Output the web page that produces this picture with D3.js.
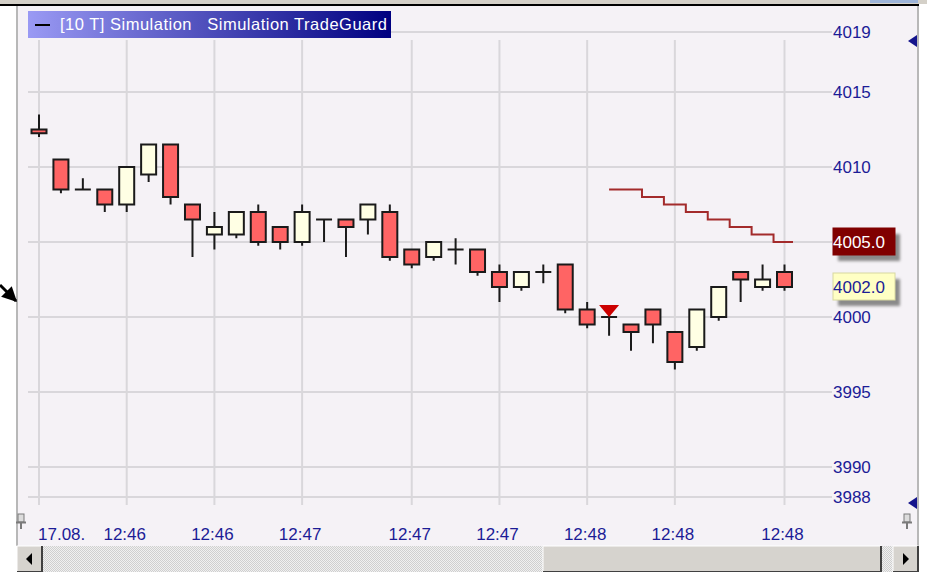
<!DOCTYPE html>
<html>
<head>
<meta charset="utf-8">
<script src="https://cdn.jsdelivr.net/npm/d3@7/dist/d3.min.js"></script>
<style>
  html, body { margin: 0; padding: 0; background: #fff; }
  svg { display: block; font-family: "Liberation Sans", Arial, sans-serif; }
</style>
</head>
<body>
<svg id="chart" width="927" height="572"></svg>
<script>
// candles, 10 tick bars
var opens  = [4012.5, 4010.5, 4008.5, 4008.5, 4007.5, 4009.5, 4011.5, 4007.5, 4005.5, 4005.5,
              4007.0, 4006.0, 4005.0, 4006.5, 4006.5, 4006.5, 4007.0, 4004.5, 4004.0, 4004.5,
              4004.5, 4003.0, 4002.0, 4003.0, 4003.5, 4000.5, 4000.0, 3999.5, 4000.5, 3999.0,
              3998.0, 4000.0, 4003.0, 4002.0, 4003.0];
var highs  = [4013.5, 4010.5, 4009.25, 4008.5, 4010.0, 4011.5, 4011.5, 4007.5, 4007.0, 4007.0,
              4007.5, 4006.0, 4007.5, 4006.5, 4006.5, 4007.5, 4007.5, 4004.5, 4005.0, 4005.25,
              4004.5, 4003.5, 4003.0, 4003.5, 4003.5, 4001.0, 4000.5, 3999.5, 4000.5, 3999.0,
              4000.5, 4002.0, 4003.0, 4003.5, 4003.5];
var lows   = [4012.0, 4008.25, 4008.5, 4007.0, 4007.0, 4009.0, 4007.5, 4004.0, 4004.5, 4005.25,
              4004.75, 4004.5, 4004.75, 4005.0, 4004.0, 4005.5, 4003.75, 4003.25, 4003.75, 4003.5,
              4002.75, 4001.0, 4001.75, 4002.25, 4000.25, 3999.25, 3998.75, 3997.75, 3998.25, 3996.5,
              3997.75, 3999.75, 4001.0, 4001.75, 4001.75];
var closes = [4012.25, 4008.5, 4008.5, 4007.5, 4010.0, 4011.5, 4008.0, 4006.5, 4006.0, 4007.0,
              4005.0, 4005.0, 4007.0, 4006.5, 4006.0, 4007.5, 4004.0, 4003.5, 4005.0, 4004.5,
              4003.0, 4002.0, 4003.0, 4003.0, 4000.5, 3999.5, 4000.0, 3999.0, 3999.5, 3997.0,
              4000.5, 4002.0, 4002.5, 4002.5, 4002.0];

// TradeGuard trailing stop, starts at the sell signal
var stops = [null, null, null, null, null, null, null, null, null, null,
             null, null, null, null, null, null, null, null, null, null,
             null, null, null, null, null, null, 4008.5, 4008.5, 4008.0, 4007.5,
             4007.0, 4006.5, 4006.0, 4005.5, 4005.0];

var signalBars = [26];
var signalPrices = [4000.0];

var priceTicks = [4019, 4015, 4010, 4005, 4000, 3995, 3990, 3988];
var timeTickBars = [0, 4, 8, 12, 17, 21, 25, 29, 34];
var timeTickLabels = ["17.08.", "12:46", "12:46", "12:47", "12:47", "12:47", "12:48", "12:48", "12:48"];

var legendText = "[10 T] Simulation   Simulation TradeGuard";

var W = 927, H = 572,
    frameLeft = 17, frameRight = 918, frameTop = 6, frameBottom = 546,
    gridLeft = 28, gridRight = 832, gridTop = 40, gridBottom = 505,
    bodyWidth = 15,
    navy = "#1c1c96";

var svg = d3.select("#chart");

var x = d3.scaleLinear().domain([0, opens.length - 1]).range([39, 784.5]);
var y = d3.scaleLinear().domain([3988, 4019]).range([497, 32]);

var bars = opens.map(function(o, i) {
    return {i: i, open: o, high: highs[i], low: lows[i], close: closes[i], stop: stops[i]};
});

var lastStop = stops[stops.length - 1],
    lastClose = closes[closes.length - 1];

// window chrome
svg.append("rect").attr("x", 0).attr("y", 0).attr("width", W).attr("height", 4).attr("fill", "#d4d0c8");
svg.append("rect").attr("x", 870).attr("y", 0).attr("width", 48).attr("height", 3).attr("fill", "#9db4d8");
svg.append("rect").attr("x", frameLeft).attr("y", frameTop).attr("width", frameRight - frameLeft)
    .attr("height", frameBottom - frameTop).attr("fill", "#f5f2f6");
svg.append("line").attr("x1", 0).attr("x2", frameRight + 1).attr("y1", 5).attr("y2", 5)
    .attr("stroke", "#000").attr("stroke-width", 2);
svg.append("line").attr("x1", frameLeft).attr("x2", frameLeft).attr("y1", frameTop).attr("y2", frameBottom)
    .attr("stroke", "#b8b8b8").attr("stroke-width", 2);
svg.append("line").attr("x1", frameRight).attr("x2", frameRight).attr("y1", frameTop).attr("y2", frameBottom)
    .attr("stroke", "#b8b8b8").attr("stroke-width", 2);

// grid
svg.append("g").selectAll("line").data(priceTicks).enter().append("line")
    .attr("x1", gridLeft).attr("x2", gridRight)
    .attr("y1", function(d) { return y(d); })
    .attr("y2", function(d) { return y(d); })
    .attr("stroke", "#d9d7db").attr("stroke-width", 2);

svg.append("g").selectAll("line").data(timeTickBars).enter().append("line")
    .attr("x1", function(d) { return x(d); })
    .attr("x2", function(d) { return x(d); })
    .attr("y1", gridTop).attr("y2", gridBottom)
    .attr("stroke", "#d9d7db").attr("stroke-width", 2);

// price axis (the tick under the stop marker is hidden by it)
svg.append("g").selectAll("text")
    .data(priceTicks.filter(function(d) { return Math.abs(y(d) - y(lastStop)) > 14; }))
    .enter().append("text")
    .attr("x", 833)
    .attr("y", function(d) { return y(d); })
    .attr("dy", "0.36em")
    .style("font-size", "17px")
    .attr("fill", navy)
    .text(function(d) { return d; });

// time axis
svg.append("g").selectAll("text").data(timeTickBars).enter().append("text")
    .attr("x", function(d, i) { return i == 0 ? x(d) - 1 : x(d) - 2; })
    .attr("y", 540)
    .attr("text-anchor", function(d, i) { return i == 0 ? "start" : "middle"; })
    .style("font-size", "17px")
    .attr("fill", navy)
    .text(function(d, i) { return timeTickLabels[i]; });

// trailing stop, steps half way between bars
var stopPts = bars.filter(function(d) { return d.stop !== null; });
var tail = stopPts[stopPts.length - 1];
stopPts = stopPts.concat([{i: tail.i, stop: tail.stop, end: true}]);
svg.append("path").datum(stopPts)
    .attr("d", d3.line()
        .x(function(d) { return d.end ? x(d.i) + bodyWidth / 2 + 1 : x(d.i); })
        .y(function(d) { return y(d.stop); })
        .curve(d3.curveStep))
    .attr("fill", "none").attr("stroke", "#a32b2b").attr("stroke-width", 2);

// candles
var candles = svg.append("g").selectAll("g").data(bars).enter().append("g");

candles.append("line")
    .attr("x1", function(d) { return x(d.i); })
    .attr("x2", function(d) { return x(d.i); })
    .attr("y1", function(d) { return y(d.high); })
    .attr("y2", function(d) { return y(d.low); })
    .attr("stroke", "#1a1a1a").attr("stroke-width", 2);

candles.filter(function(d) { return d.open != d.close; }).append("rect")
    .attr("x", function(d) { return x(d.i) - bodyWidth / 2; })
    .attr("y", function(d) { return y(Math.max(d.open, d.close)); })
    .attr("width", bodyWidth)
    .attr("height", function(d) { return Math.abs(y(d.open) - y(d.close)); })
    .attr("fill", function(d) { return d.close > d.open ? "#ffffe4" : "#ff6464"; })
    .attr("stroke", "#1a1a1a").attr("stroke-width", 2);

candles.filter(function(d) { return d.open == d.close; }).append("line")
    .attr("x1", function(d) { return x(d.i) - bodyWidth / 2 - 0.5; })
    .attr("x2", function(d) { return x(d.i) + bodyWidth / 2 + 0.5; })
    .attr("y1", function(d) { return y(d.close); })
    .attr("y2", function(d) { return y(d.close); })
    .attr("stroke", "#1a1a1a").attr("stroke-width", 2);

// sell signal
svg.append("g").selectAll("path").data(signalBars).enter().append("path")
    .attr("d", function(d, k) {
        var cx = x(d), cy = y(signalPrices[k]);
        return "M" + (cx - 10) + "," + (cy - 12) + "L" + (cx + 10) + "," + (cy - 12) + "L" + cx + "," + cy + "Z";
    })
    .attr("fill", "#cc0000");

// price markers on the axis
var defs = svg.append("defs");
var blur = defs.append("filter").attr("id", "shadow").attr("x", "-20%").attr("y", "-20%")
    .attr("width", "150%").attr("height", "150%");
blur.append("feGaussianBlur").attr("stdDeviation", 1.5);

var markers = [
    {value: lastStop, fill: "#800000", text: "#ffffff", stroke: "#800000"},
    {value: lastClose, fill: "#ffffc4", text: navy, stroke: "#d8d8a0"}
];
var mk = svg.append("g").selectAll("g").data(markers).enter().append("g");
mk.append("rect")
    .attr("x", 838).attr("y", function(d) { return y(d.value) - 13 + 5; })
    .attr("width", 62).attr("height", 27)
    .attr("fill", "#8a8a8a").attr("filter", "url(#shadow)");
mk.append("rect")
    .attr("x", 833).attr("y", function(d) { return y(d.value) - 14; })
    .attr("width", 62).attr("height", 27)
    .attr("fill", function(d) { return d.fill; })
    .attr("stroke", function(d) { return d.stroke; }).attr("stroke-width", 1);
mk.append("text")
    .attr("x", 833).attr("y", function(d) { return y(d.value); })
    .attr("dy", "0.36em")
    .style("font-size", "17px")
    .attr("fill", function(d) { return d.text; })
    .text(function(d) { return d.value.toFixed(1); });

// scroll markers on the right edge
[y(4019) + 9, 503].forEach(function(cy) {
    svg.append("path").attr("d", "M908," + cy + "L917," + (cy - 6) + "L917," + (cy + 6) + "Z").attr("fill", "#14148c");
});

// legend
var grad = defs.append("linearGradient").attr("id", "legendGrad");
grad.append("stop").attr("offset", "0%").attr("stop-color", "#9a9af4");
grad.append("stop").attr("offset", "100%").attr("stop-color", "#000080");
svg.append("rect").attr("x", 28).attr("y", 11).attr("width", 363).attr("height", 27).attr("fill", "url(#legendGrad)");
svg.append("line").attr("x1", 35).attr("x2", 50).attr("y1", 25).attr("y2", 25).attr("stroke", "#000").attr("stroke-width", 2);
svg.append("text").attr("x", 60).attr("y", 30).attr("fill", "#fff")
    .style("font-size", "16.5px").style("letter-spacing", "0.5px")
    .style("white-space", "pre").attr("xml:space", "preserve")
    .text(legendText);

// pins
[[17, 514], [903, 514]].forEach(function(p) {
    var g = svg.append("g").attr("transform", "translate(" + p[0] + "," + p[1] + ")");
    g.append("rect").attr("x", 1).attr("y", 0).attr("width", 6).attr("height", 8).attr("fill", "#dcdcdc").attr("stroke", "#7a7a7a");
    g.append("line").attr("x1", -1).attr("x2", 9).attr("y1", 8.5).attr("y2", 8.5).attr("stroke", "#7a7a7a").attr("stroke-width", 2);
    g.append("line").attr("x1", 4).attr("x2", 4).attr("y1", 9).attr("y2", 15).attr("stroke", "#7a7a7a").attr("stroke-width", 2);
});

// scrollbar
var hatch = defs.append("pattern").attr("id", "hatch").attr("width", 2).attr("height", 2).attr("patternUnits", "userSpaceOnUse");
hatch.append("rect").attr("width", 2).attr("height", 2).attr("fill", "#f0f0f0");
hatch.append("rect").attr("width", 1).attr("height", 1).attr("fill", "#cfcfcf");
hatch.append("rect").attr("x", 1).attr("y", 1).attr("width", 1).attr("height", 1).attr("fill", "#cfcfcf");
svg.append("rect").attr("x", frameLeft).attr("y", 546).attr("width", frameRight - frameLeft).attr("height", 26).attr("fill", "url(#hatch)");

function button(x0, w) {
    svg.append("rect").attr("x", x0).attr("y", 546).attr("width", w).attr("height", 26)
        .attr("fill", "#d6d3ce").attr("stroke", "#fff").attr("stroke-width", 1);
    svg.append("path").attr("d", "M" + (x0 + w) + ",546V572H" + x0).attr("fill", "none").attr("stroke", "#404040").attr("stroke-width", 2);
}
button(frameLeft, 25);
button(543, 338);
button(893, 25);
svg.append("path").attr("d", "M26,559L32,553V565Z").attr("fill", "#000");
svg.append("path").attr("d", "M909,559L903,553V565Z").attr("fill", "#000");

// annotation arrow outside the chart
var arrow = defs.append("marker").attr("id", "arrowHead").attr("viewBox", "0 0 10 10")
    .attr("refX", 9).attr("refY", 5).attr("markerWidth", 5).attr("markerHeight", 5).attr("orient", "auto");
arrow.append("path").attr("d", "M0,0L10,5L0,10Z").attr("fill", "#000");
svg.append("line").attr("x1", 0).attr("y1", 285).attr("x2", 16).attr("y2", 301)
    .attr("stroke", "#000").attr("stroke-width", 3).attr("marker-end", "url(#arrowHead)");
</script>
</body>
</html>
